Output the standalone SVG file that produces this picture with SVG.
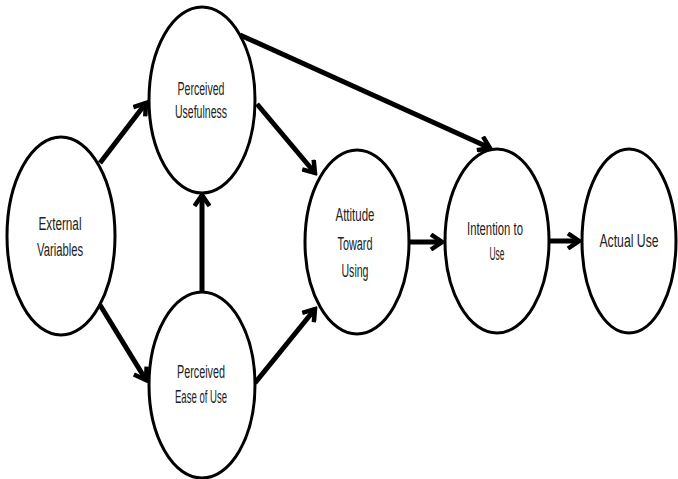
<svg xmlns="http://www.w3.org/2000/svg" width="678" height="479" viewBox="0 0 678 479">
<defs>
<style>
.node ellipse{fill:#fff;stroke:#000;stroke-width:3}
.node text{font-family:"Liberation Sans",Arial,sans-serif;font-size:18px;fill:#222;text-anchor:middle}
.edges line{stroke:#000;stroke-width:5;marker-end:url(#arr)}
</style>
<marker id="arr" viewBox="0 0 16 18" refX="13" refY="9" markerWidth="16" markerHeight="18" markerUnits="userSpaceOnUse" orient="auto">
<path d="M2,1.5 L13,9 L2,16.5" fill="none" stroke="#000" stroke-width="4.5" stroke-linejoin="miter"/>
</marker>
</defs>
<rect width="678" height="479" fill="#fff"/>
<g class="edges">
<line x1="100" y1="163" x2="146" y2="103"/>
<line x1="100" y1="305" x2="146" y2="380"/>
<line x1="202" y1="292" x2="202" y2="195"/>
<line x1="257" y1="104" x2="315" y2="173"/>
<line x1="255" y1="383" x2="315" y2="309"/>
<line x1="240" y1="35" x2="490" y2="148"/>
<line x1="409" y1="242" x2="442" y2="242"/>
<line x1="550" y1="241" x2="579" y2="241"/>
</g>
<g id="external" class="node">
<ellipse cx="61" cy="236" rx="54" ry="99"/>
<text x="60" y="230" textLength="43" lengthAdjust="spacingAndGlyphs">External</text>
<text x="60" y="256" textLength="46" lengthAdjust="spacingAndGlyphs">Variables</text>
</g>
<g id="pu" class="node">
<ellipse cx="202" cy="100" rx="53" ry="93"/>
<text x="201" y="95" textLength="47" lengthAdjust="spacingAndGlyphs">Perceived</text>
<text x="201" y="118" textLength="52" lengthAdjust="spacingAndGlyphs">Usefulness</text>
</g>
<g id="peou" class="node">
<ellipse cx="202" cy="385" rx="53" ry="93"/>
<text x="201" y="378" textLength="48" lengthAdjust="spacingAndGlyphs">Perceived</text>
<text x="201" y="403" textLength="52" lengthAdjust="spacingAndGlyphs">Ease of Use</text>
</g>
<g id="attitude" class="node">
<ellipse cx="357" cy="242" rx="52" ry="92"/>
<text x="355" y="221" textLength="39" lengthAdjust="spacingAndGlyphs">Attitude</text>
<text x="355" y="250" textLength="35" lengthAdjust="spacingAndGlyphs">Toward</text>
<text x="355" y="277" textLength="27" lengthAdjust="spacingAndGlyphs">Using</text>
</g>
<g id="intention" class="node">
<ellipse cx="497" cy="241" rx="52" ry="92"/>
<text x="495" y="235" textLength="56" lengthAdjust="spacingAndGlyphs">Intention to</text>
<text x="497" y="260" textLength="15" lengthAdjust="spacingAndGlyphs">Use</text>
</g>
<g id="actual" class="node">
<ellipse cx="629" cy="241" rx="47" ry="92"/>
<text transform="translate(629,247) scale(0.68,1)" font-size="17">Actual Use</text>
</g>
</svg>
